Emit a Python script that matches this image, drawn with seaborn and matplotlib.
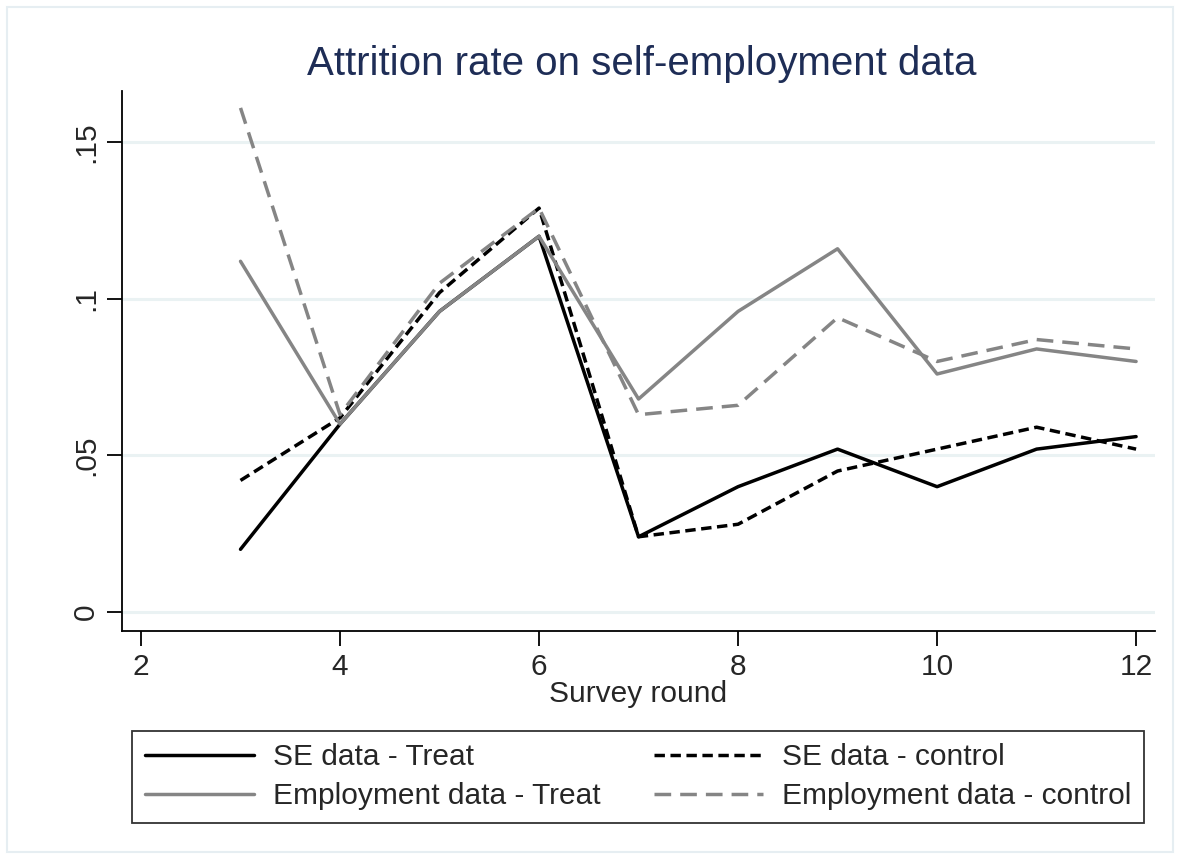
import numpy as np
import pandas as pd
import matplotlib
matplotlib.use("Agg")
import matplotlib.pyplot as plt
import seaborn as sns
from matplotlib.patches import Rectangle

rounds = [3, 4, 5, 6, 7, 8, 9, 10, 11, 12]
se_treat = [0.020, 0.060, 0.096, 0.120, 0.024, 0.040, 0.052, 0.040, 0.052, 0.056]
se_control = [0.042, 0.062, 0.102, 0.129, 0.024, 0.028, 0.045, 0.052, 0.059, 0.052]
emp_treat = [0.112, 0.060, 0.096, 0.120, 0.068, 0.096, 0.116, 0.076, 0.084, 0.080]
emp_control = [0.161, 0.063, 0.105, 0.129, 0.063, 0.066, 0.094, 0.080, 0.087, 0.084]

labels = ["SE data - Treat", "SE data - control",
          "Employment data - Treat", "Employment data - control"]
xticks = [2, 4, 6, 8, 10, 12]
yticks = [0, 0.05, 0.1, 0.15]
ytick_labels = ["0", ".05", ".1", ".15"]

sns.set_style("white")
plt.rcParams["font.family"] = ["Liberation Sans", "DejaVu Sans"]

fig = plt.figure(figsize=(11.8, 8.59), dpi=100)
ax = fig.add_axes([122 / 1180, 228 / 859, 1033 / 1180, 540 / 859])

styles = [
    ("black", None),
    ("black", (3.0, 1.6)),
    ("#858585", None),
    ("#858585", (4.8, 2.6)),
]
series = [se_treat, se_control, emp_treat, emp_control]
handles = []
for vals, lab, (col, dash) in zip(series, labels, styles):
    df = pd.DataFrame({"round": rounds, "rate": vals})
    sns.lineplot(data=df, x="round", y="rate", ax=ax, color=col,
                 linewidth=2.5, label=lab)
    line = ax.lines[-1]
    if dash is not None:
        line.set_dashes(dash)
    handles.append(line)

ax.set_xlim(1.809, 12.19)
ax.set_ylim(-0.0061, 0.1664)
ax.set_xticks(xticks)
ax.set_xticklabels([str(t) for t in xticks])
ax.set_yticks(yticks)
ax.set_yticklabels(ytick_labels, rotation=90, va="center")
ax.tick_params(axis="both", direction="out", length=11, width=1.3,
               labelsize=21.5, color="black", pad=5, left=True, bottom=True)
ax.grid(axis="y", color="#eaf2f3", linewidth=2.2)
ax.set_axisbelow(True)
for s in ["top", "right"]:
    ax.spines[s].set_visible(False)
for s in ["left", "bottom"]:
    ax.spines[s].set_color("black")
    ax.spines[s].set_linewidth(1.3)

ax.set_xlabel("Survey round", fontsize=21.5, labelpad=-1)
ax.set_ylabel("")
fig.text(642 / 1180, (859 - 75) / 859, "Attrition rate on self-employment data",
         ha="center", va="baseline", fontsize=29, color="#1e2d56")

ax.get_legend().remove()
order = [0, 2, 1, 3]
leg = fig.legend([handles[i] for i in order], [labels[i] for i in order],
                 loc="lower left", bbox_to_anchor=(132 / 1180, 36 / 859, 1012 / 1180, 95 / 859),
                 mode="expand", ncol=2, fontsize=21.5, frameon=True, fancybox=False,
                 edgecolor="black", handlelength=3.65, handletextpad=0.65,
                 borderaxespad=0, labelspacing=0.37, borderpad=0.42)
leg.get_frame().set_linewidth(1.3)

fig.patches.append(Rectangle((7 / 1180, 7 / 859), 1166 / 1180, 845 / 859,
                             transform=fig.transFigure, fill=False,
                             edgecolor="#e6eef2", linewidth=1.5))

fig.savefig("out.png", dpi=100)
